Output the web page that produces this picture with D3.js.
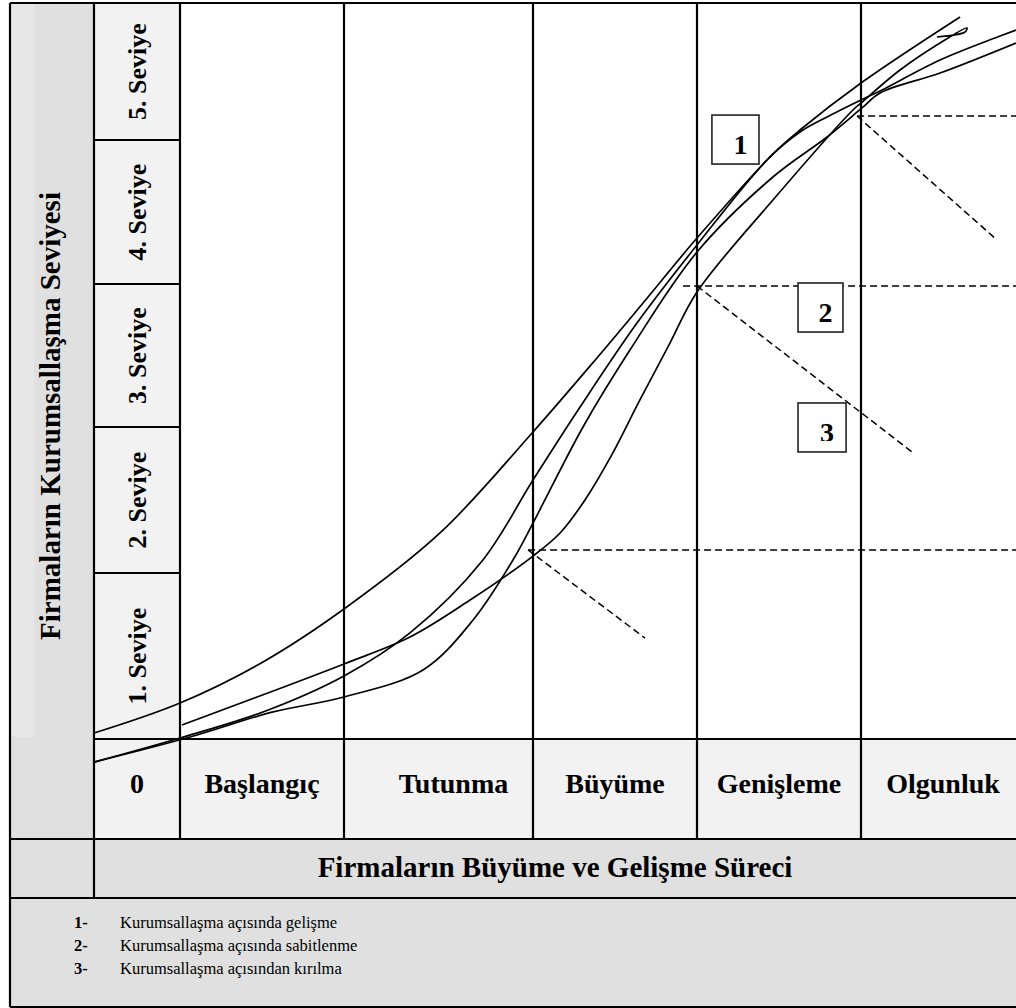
<!DOCTYPE html>
<html>
<head>
<meta charset="utf-8">
<script src="https://cdn.jsdelivr.net/npm/d3@7"></script>
<style>
  body { margin: 0; background: #fff; }
  text { font-family: "Liberation Serif", "Times New Roman", serif; fill: #000; }
</style>
</head>
<body>
<div id="chart"></div>
<script>
// stages along the bottom, levels up the side
const stages = ["0", "Başlangıç", "Tutunma", "Büyüme", "Genişleme", "Olgunluk"];
const levels = ["1. Seviye", "2. Seviye", "3. Seviye", "4. Seviye", "5. Seviye"];
const yTitle = "Firmaların Kurumsallaşma Seviyesi";
const xTitle = "Firmaların Büyüme ve Gelişme Süreci";
const legendNums = ["1-", "2-", "3-"];
const legendTexts = ["Kurumsallaşma açısında gelişme",
                     "Kurumsallaşma açısında sabitlenme",
                     "Kurumsallaşma açısından kırılma"];

// curves as [stage, level]
const curveA = [[0,0.036],[1,0.217],[1.506,0.464],[2,0.783],[2.508,1.274],
  [3,1.966],[3.39,2.483],[3.671,2.867],[4,3.319],[4.463,3.903],[4.628,4.073],[5,4.416],[5.604,4.898]];
const curveB = [[1.012,0.084],[2,0.452],[2.349,0.614],[2.667,0.837],[3,1.116],[3.165,1.274],
  [3.317,1.5],[3.47,1.788],[3.652,2.189],[3.835,2.587],[4,2.944],[4.463,3.583],[4.951,4.219],[5,4.27],
  [5.238,4.511],[5.482,4.708],[5.646,4.818],[5.634,4.788],[5.463,4.752]];
const curveC = [[0,-0.139],[1,0.006],[1.506,0.163],[2,0.38],[2.349,0.639],[2.735,1.089],
  [3,1.637],[3.287,2.14],[3.634,2.727],[4,3.271],[4.427,3.861],[4.628,4.058],[4.793,4.168],
  [5,4.292],[5.116,4.358],[5.482,4.584],[5.848,4.759],[5.945,4.803]];
const curveD = [[0,-0.139],[1.061,0.012],[1.567,0.163],[2,0.253],[2.418,0.416],[2.683,0.717],
  [2.894,1.089],[3,1.342],[3.305,2.0],[3.591,2.538],[4,3.222],[4.463,3.743],[4.793,4.022],
  [5.006,4.234],[5.116,4.343],[5.482,4.489],[5.945,4.708]];

// dashed "plateau / break" markers
const plateauX = [2.974, 3.915, 4.976];
const plateauY = [1.158, 2.986, 4.175];
const breakFrom = [[2.974,1.158],[4.0,2.986],[4.976,4.175]];
const breakTo = [[3.683,0.608],[5.311,1.829],[5.829,3.306]];

// numbered boxes: [x0, x1, yTop, yBottom]
const boxLabels = ["1", "2", "3"];
const boxes = [[4.091,4.378,4.182,3.833],[4.616,4.89,3.007,2.664],[4.616,4.909,2.168,1.829]];

const W = 1016, H = 1008;
const svg = d3.select("#chart").append("svg").attr("width", W).attr("height", H);

const x = d3.scaleLinear().domain([0,1,2,3,4,5,6]).range([94,180,344,533,697,861,1025]);
const y = d3.scaleLinear().domain([0,1,2,3,4,5]).range([739,573,427,284,140,3]);

const left = 10, rowStage = 839, rowTitle = 898, bottom = 1007;

// backgrounds
svg.append("rect").attr("x", left).attr("y", y(5)).attr("width", x(0) - left).attr("height", rowTitle - y(5)).attr("fill", "#e0e0e0");
svg.append("rect").attr("x", left).attr("y", y(5)).attr("width", 24).attr("height", y(0) - y(5) - 2).attr("fill", "#e7e7e7");
svg.append("rect").attr("x", x(0)).attr("y", y(5)).attr("width", x(1) - x(0)).attr("height", y(0) - y(5)).attr("fill", "#f2f2f2");
svg.append("rect").attr("x", x(0)).attr("y", y(0)).attr("width", W - x(0)).attr("height", rowStage - y(0)).attr("fill", "#f2f2f2");
svg.append("rect").attr("x", left).attr("y", rowStage).attr("width", W - left).attr("height", bottom - rowStage).attr("fill", "#e0e0e0");

// texts
svg.append("text")
  .attr("transform", `translate(60, ${(y(5) + y(0)) / 2 + 45}) rotate(-90)`)
  .attr("text-anchor", "middle").attr("font-size", 29).attr("font-weight", "bold")
  .text(yTitle);

svg.selectAll("text.level").data(levels).join("text")
  .attr("class", "level")
  .attr("transform", (d, i) => `translate(146, ${(y(i) + y(i + 1)) / 2}) rotate(-90)`)
  .attr("text-anchor", "middle").attr("font-size", 26).attr("font-weight", "bold")
  .text(d => d);

svg.selectAll("text.stage").data(stages).join("text")
  .attr("class", "stage")
  .attr("x", (d, i) => x(i + 0.5) + (d === "Tutunma" ? 15 : 0))
  .attr("y", 793)
  .attr("text-anchor", "middle").attr("font-size", 28).attr("font-weight", "bold")
  .text(d => d);

svg.append("text")
  .attr("x", (x(0) + W) / 2).attr("y", 877)
  .attr("text-anchor", "middle").attr("font-size", 29).attr("font-weight", "bold")
  .text(xTitle);

const leg = svg.selectAll("g.leg").data(legendTexts).join("g")
  .attr("class", "leg")
  .attr("transform", (d, i) => `translate(0, ${928 + i * 23})`);
leg.append("text").attr("x", 74).attr("font-size", 16.5).attr("font-weight", "bold").text((d, i) => legendNums[i]);
leg.append("text").attr("x", 120).attr("font-size", 16.5).text(d => d);

// dashed markers
const dash = svg.append("g").attr("stroke", "#000").attr("stroke-width", 1.5).attr("stroke-dasharray", "7,4").attr("fill", "none");
plateauX.forEach((px, i) => {
  dash.append("line").attr("x1", x(px)).attr("x2", x(6)).attr("y1", y(plateauY[i])).attr("y2", y(plateauY[i]));
  dash.append("line").attr("x1", x(breakFrom[i][0])).attr("y1", y(breakFrom[i][1]))
    .attr("x2", x(breakTo[i][0])).attr("y2", y(breakTo[i][1]));
});

// curves
const line = d3.line().x(d => x(d[0])).y(d => y(d[1])).curve(d3.curveCatmullRom.alpha(0.5));
svg.append("g").selectAll("path").data([curveA, curveB, curveC, curveD]).join("path")
  .attr("d", line).attr("fill", "none").attr("stroke", "#000").attr("stroke-width", 1.7);

// table rules
const rules = svg.append("g").attr("stroke", "#000").attr("stroke-width", 2.2);
function rule(x1, y1, x2, y2) {
  rules.append("line").attr("x1", x1).attr("y1", y1).attr("x2", x2).attr("y2", y2);
}
rule(left, y(5), W, y(5));
rule(left, y(5), left, bottom);
rule(x(0), y(5), x(0), rowTitle);
d3.range(1, 6).forEach(i => rule(x(i), y(5), x(i), rowStage));
d3.range(1, 5).forEach(i => rule(x(0), y(i), x(1), y(i)));
rule(x(0), y(0), W, y(0));
rule(left, rowStage, W, rowStage);
rule(left, rowTitle, W, rowTitle);
rule(left, bottom, W, bottom);

// numbered boxes
const defs = svg.append("defs");
boxes.forEach((b, i) => {
  defs.append("clipPath").attr("id", "bc" + i).append("rect")
    .attr("x", x(b[0])).attr("y", y(b[2])).attr("width", x(b[1]) - x(b[0]))
    .attr("height", y(b[3]) - y(b[2]) - (i === 2 ? 11 : 0));
});
const bx = svg.selectAll("g.box").data(boxes).join("g").attr("class", "box");
bx.append("rect")
  .attr("x", d => x(d[0])).attr("y", d => y(d[2]))
  .attr("width", d => x(d[1]) - x(d[0])).attr("height", d => y(d[3]) - y(d[2]))
  .attr("fill", "#fff").attr("stroke", "#222").attr("stroke-width", 1.6);
bx.append("text")
  .attr("clip-path", (d, i) => `url(#bc${i})`)
  .attr("x", d => (x(d[0]) + x(d[1])) / 2 + 5)
  .attr("y", d => y(d[3]) - 10)
  .attr("text-anchor", "middle").attr("font-size", 28).attr("font-weight", "bold")
  .text((d, i) => boxLabels[i]);
</script>
</body>
</html>
